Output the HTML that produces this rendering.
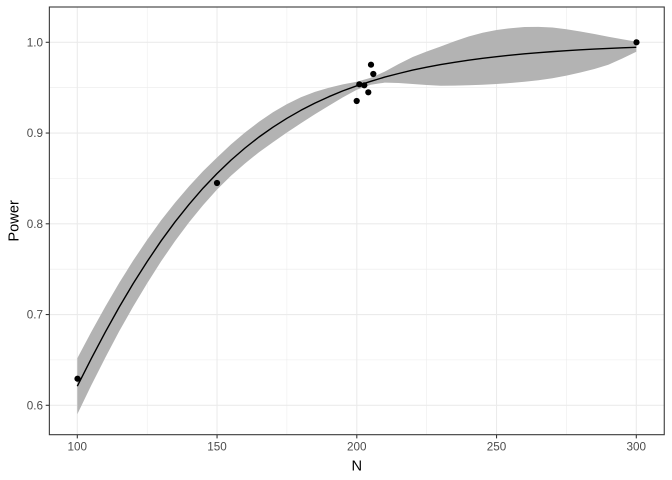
<!DOCTYPE html>
<html>
<head>
<meta charset="utf-8">
<style>
html,body{margin:0;padding:0;background:#fff;}
svg{display:block;}
text{font-family:"Liberation Sans", Arial, sans-serif;}
</style>
</head>
<body>
<svg width="672" height="480" viewBox="0 0 672 480" xmlns="http://www.w3.org/2000/svg">
<rect x="0" y="0" width="672" height="480" fill="#fff"/>
<!-- minor grid -->
<g stroke="#EBEBEB" stroke-width="0.55" fill="none">
<line x1="49.35" x2="664.25" y1="359.9" y2="359.9"/>
<line x1="49.35" x2="664.25" y1="269.2" y2="269.2"/>
<line x1="49.35" x2="664.25" y1="178.4" y2="178.4"/>
<line x1="49.35" x2="664.25" y1="87.7" y2="87.7"/>
<line y1="7" y2="434.7" x1="147.2" x2="147.2"/>
<line y1="7" y2="434.7" x1="286.9" x2="286.9"/>
<line y1="7" y2="434.7" x1="426.7" x2="426.7"/>
<line y1="7" y2="434.7" x1="566.4" x2="566.4"/>
</g>
<!-- major grid -->
<g stroke="#EBEBEB" stroke-width="1.07" fill="none">
<line x1="49.35" x2="664.25" y1="405.3" y2="405.3"/>
<line x1="49.35" x2="664.25" y1="314.55" y2="314.55"/>
<line x1="49.35" x2="664.25" y1="223.8" y2="223.8"/>
<line x1="49.35" x2="664.25" y1="133.05" y2="133.05"/>
<line x1="49.35" x2="664.25" y1="42.3" y2="42.3"/>
<line y1="7" y2="434.7" x1="77.3" x2="77.3"/>
<line y1="7" y2="434.7" x1="217.05" x2="217.05"/>
<line y1="7" y2="434.7" x1="356.8" x2="356.8"/>
<line y1="7" y2="434.7" x1="496.55" x2="496.55"/>
<line y1="7" y2="434.7" x1="636.3" x2="636.3"/>
</g>
<!-- ribbon -->
<polygon fill="#B3B3B3" points="77.3,358.2 91.3,331.9 105.25,306.7 119.2,282.9 133.2,260.5 147.2,239.8 161.15,220.3 175.1,202.6 189.1,186.3 203.1,171.1 217.05,157.5 231.0,144.4 245.0,132.5 259.0,121.8 272.95,112.2 286.9,104.1 300.9,97.3 314.9,91.9 328.85,87.7 342.8,84.4 356.8,81.8 370.8,77.8 384.75,71.6 398.7,64.0 412.7,57.0 426.7,51.5 440.65,46.5 454.6,41.2 468.6,36.5 482.6,32.8 496.55,30.0 510.5,28.2 524.5,27.0 538.5,26.9 552.45,27.5 566.4,29.2 580.4,31.5 594.4,34.0 608.35,36.8 622.3,39.3 636.3,41.7 636.3,51.7 622.3,58.5 608.35,64.8 594.4,69.0 580.4,72.5 566.4,75.6 552.45,78.2 538.5,80.2 524.5,81.8 510.5,83.0 496.55,84.0 482.6,84.7 468.6,85.2 454.6,85.6 440.65,85.7 426.7,85.0 412.7,84.0 398.7,83.0 384.75,82.6 370.8,84.8 356.8,89.8 342.8,97.4 328.85,105.7 314.9,114.3 300.9,123.3 286.9,132.5 272.95,142.2 259.0,152.2 245.0,163.5 231.0,175.8 217.05,189.5 203.1,205.1 189.1,222.3 175.1,241.0 161.15,261.3 147.2,283.2 133.2,306.5 119.2,331.3 105.25,357.7 91.3,385.3 77.3,414.2"/>
<!-- fitted line -->
<polyline fill="none" stroke="#000" stroke-width="1.4" stroke-linejoin="round" points="77.3,386.2 91.3,358.6 105.25,332.2 119.2,307.1 133.2,283.5 147.2,261.5 161.15,240.8 175.1,221.8 189.1,204.3 203.1,188.1 217.05,173.5 231.0,160.1 245.0,148.0 259.0,137.0 272.95,127.2 286.9,118.3 300.9,110.3 314.9,103.1 328.85,96.7 342.8,90.9 356.8,85.8 370.8,81.3 384.75,77.1 398.7,73.5 412.7,70.1 426.7,67.2 440.65,64.6 454.6,62.3 468.6,60.15 482.6,58.3 496.55,56.66 510.5,55.2 524.5,53.86 538.5,52.7 552.45,51.63 566.4,50.7 580.4,49.85 594.4,49.1 608.35,48.42 622.3,47.8 636.3,47.28"/>
<!-- points -->
<g fill="#000">
<circle cx="77.5" cy="378.7" r="3.1"/>
<circle cx="217" cy="183" r="3.1"/>
<circle cx="356.7" cy="101" r="3.1"/>
<circle cx="359.3" cy="84.3" r="3.1"/>
<circle cx="364.3" cy="85.3" r="3.1"/>
<circle cx="368.3" cy="92.3" r="3.1"/>
<circle cx="371" cy="64.7" r="3.1"/>
<circle cx="373.3" cy="74" r="3.1"/>
<circle cx="636.5" cy="42.3" r="3.1"/>
</g>
<!-- panel border -->
<rect x="49.35" y="7" width="614.9" height="427.7" fill="none" stroke="#333" stroke-width="1.07"/>
<!-- ticks -->
<g stroke="#333" stroke-width="1.07">
<line x1="45.7" x2="49.35" y1="405.3" y2="405.3"/>
<line x1="45.7" x2="49.35" y1="314.55" y2="314.55"/>
<line x1="45.7" x2="49.35" y1="223.8" y2="223.8"/>
<line x1="45.7" x2="49.35" y1="133.05" y2="133.05"/>
<line x1="45.7" x2="49.35" y1="42.3" y2="42.3"/>
<line y1="434.7" y2="438.4" x1="77.3" x2="77.3"/>
<line y1="434.7" y2="438.4" x1="217.05" x2="217.05"/>
<line y1="434.7" y2="438.4" x1="356.8" x2="356.8"/>
<line y1="434.7" y2="438.4" x1="496.55" x2="496.55"/>
<line y1="434.7" y2="438.4" x1="636.3" x2="636.3"/>
</g>
<!-- tick labels -->
<g fill="#4D4D4D" font-size="11.7" text-anchor="end">
<text x="43" y="409.5">0.6</text>
<text x="43" y="318.7">0.7</text>
<text x="43" y="228">0.8</text>
<text x="43" y="137.2">0.9</text>
<text x="43" y="46.5">1.0</text>
</g>
<g fill="#4D4D4D" font-size="11.7" text-anchor="middle">
<text x="77.3" y="450.6">100</text>
<text x="217.05" y="450.6">150</text>
<text x="356.8" y="450.6">200</text>
<text x="496.55" y="450.6">250</text>
<text x="636.3" y="450.6">300</text>
</g>
<!-- axis titles -->
<text x="356.8" y="470.3" font-size="14.67" text-anchor="middle" fill="#000">N</text>
<text x="0" y="0" font-size="14.67" text-anchor="middle" fill="#000" transform="translate(18.3,220.9) rotate(-90)">Power</text>
</svg>
</body>
</html>
